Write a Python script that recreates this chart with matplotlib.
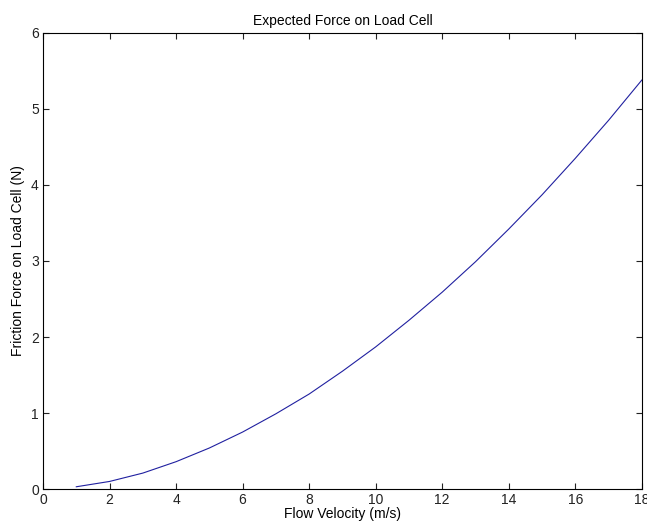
import matplotlib
matplotlib.use("Agg")
import matplotlib.pyplot as plt

plt.rcParams['font.family'] = ['Liberation Sans', 'DejaVu Sans']

# values
velocity = [1, 2, 3, 4, 5, 6, 7, 8, 9, 10, 11, 12, 13, 14, 15, 16, 17, 18]
force = [0.03, 0.10, 0.21, 0.36, 0.54, 0.75, 0.99, 1.25, 1.55, 1.87, 2.22,
         2.59, 2.99, 3.42, 3.87, 4.35, 4.85, 5.38]

fig = plt.figure(figsize=(6.47, 5.31), dpi=100)
ax = fig.add_axes([0.0665, 0.079, 0.9255, 0.859])
ax.plot(velocity, force, color='#2020a0', linewidth=0.8)

ax.set_xlim(0, 18)
ax.set_ylim(0, 6)
ax.set_xticks(range(0, 19, 2))
ax.set_yticks(range(0, 7))
ax.tick_params(direction='in', top=True, right=True, length=4, width=0.8,
               labelsize=10, colors='#222222', pad=3)
for s in ax.spines.values():
    s.set_linewidth(0.8)

ax.set_title("Expected Force on Load Cell", fontsize=10, pad=6)
ax.set_xlabel("Flow Velocity (m/s)", fontsize=10, labelpad=0)
ax.set_ylabel("Friction Force on Load Cell (N)", fontsize=10, labelpad=4)

fig.savefig("out.png", dpi=100)
